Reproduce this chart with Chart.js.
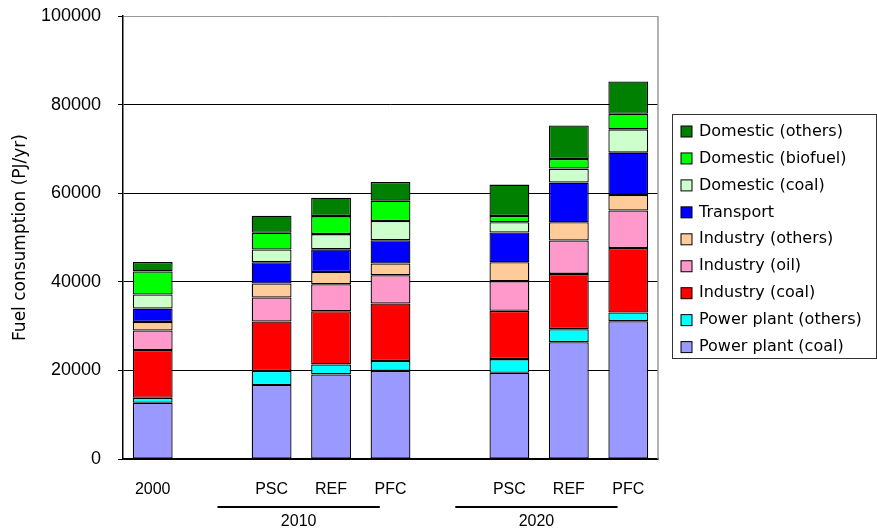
<!DOCTYPE html>
<html>
<head>
<meta charset="utf-8">
<script src="https://cdn.jsdelivr.net/npm/chart.js@4/dist/chart.umd.min.js"></script>
<style>
  html, body { margin: 0; padding: 0; background: #fff; }
  #wrap { width: 877px; height: 531px; position: relative; }
</style>
</head>
<body>
<div id="wrap"><canvas id="fuel"></canvas></div>
<script>
// categories (empty slots are the gaps between years)
const categories = ['2000', '', 'PSC', 'REF', 'PFC', '', 'PSC', 'REF', 'PFC'];

// year groups under the scenario labels
const groupNames = ['2010', '2020'];
const groupFirst = [2, 6];
const groupLast = [4, 8];

const yTicks = [0, 20000, 40000, 60000, 80000, 100000];

// series values, PJ/yr (bottom of stack first)
const powerCoal      = [12700, null, 16700, 19100, 19900, null, 19460, 26380, 31120];
const powerOthers    = [1100,  null, 3200,  2250,  2250,  null, 3090,  2930,  1960];
const industryCoal   = [10800, null, 11150, 12000, 12950, null, 10890, 12470, 14560];
const industryOil    = [4400,  null, 5400,  6100,  6380,  null, 6700,  7530,  8440];
const industryOthers = [1950,  null, 3150,  2770,  2640,  null, 4280,  4130,  3510];
const transport      = [3000,  null, 4800,  5100,  5250,  null, 6700,  8950,  9560];
const domesticCoal   = [3200,  null, 2900,  3450,  4350,  null, 2320,  3160,  5260];
const domesticBio    = [5200,  null, 3770,  4060,  4600,  null, 1420,  2160,  3540];
const domesticOthers = [2100,  null, 3830,  4150,  4200,  null, 7080,  7600,  7280];

const seriesNames = ['Power plant (coal)', 'Power plant (others)', 'Industry (coal)',
  'Industry (oil)', 'Industry (others)', 'Transport', 'Domestic (coal)',
  'Domestic (biofuel)', 'Domestic (others)'];
const seriesData = [powerCoal, powerOthers, industryCoal, industryOil, industryOthers,
  transport, domesticCoal, domesticBio, domesticOthers];
const seriesColors = ['#9999FF', '#00FFFF', '#FF0000', '#FF99CC', '#FFCC99',
  '#0000FF', '#CCFFCC', '#00FF00', '#008000'];

const gothic = '"DejaVu Sans", sans-serif';
const arial = '"Liberation Sans", Arial, sans-serif';

// year labels + lines under the scenario ticks
const groupPlugin = {
  id: 'groups',
  afterDraw(chart) {
    const ctx = chart.ctx;
    const xs = chart.scales.x;
    const step = xs.getPixelForTick(1) - xs.getPixelForTick(0);
    ctx.save();
    for (let i = 0; i < groupNames.length; i++) {
      const x0 = xs.getPixelForTick(groupFirst[i]) - 0.91 * step;
      const x1 = xs.getPixelForTick(groupLast[i]) - 0.18 * step;
      ctx.strokeStyle = '#000';
      ctx.lineWidth = 2;
      ctx.beginPath();
      ctx.moveTo(x0, 507);
      ctx.lineTo(x1, 507);
      ctx.stroke();
      ctx.fillStyle = '#000';
      ctx.font = '16px ' + arial;
      ctx.textAlign = 'center';
      ctx.textBaseline = 'middle';
      ctx.fillText(groupNames[i], (x0 + x1) / 2, 522);
    }
    // right edge of the plot
    const a = chart.chartArea;
    ctx.strokeStyle = '#999';
    ctx.lineWidth = 1.5;
    ctx.beginPath();
    ctx.moveTo(a.right, a.top);
    ctx.lineTo(a.right, a.bottom);
    ctx.stroke();
    ctx.restore();
  }
};

// boxed legend, top entry = top of stack
const legendPlugin = {
  id: 'boxLegend',
  afterDraw(chart) {
    const ctx = chart.ctx;
    ctx.save();
    ctx.strokeStyle = '#333';
    ctx.lineWidth = 1;
    ctx.strokeRect(672.5, 114.5, 204, 244);
    ctx.font = '16px ' + gothic;
    ctx.textBaseline = 'middle';
    ctx.textAlign = 'left';
    for (let k = 0; k < seriesNames.length; k++) {
      const i = seriesNames.length - 1 - k;
      const y = 131.5 + k * 26.95;
      ctx.fillStyle = seriesColors[i];
      ctx.fillRect(681, y - 5.5, 11, 11);
      ctx.strokeStyle = '#000';
      ctx.strokeRect(681, y - 5.5, 11, 11);
      ctx.fillStyle = '#000';
      ctx.fillText(seriesNames[i], 699, y);
    }
    ctx.restore();
  }
};

const datasets = seriesNames.map((name, i) => ({
  label: name,
  data: seriesData[i],
  backgroundColor: seriesColors[i],
  borderColor: '#000',
  borderWidth: 1.3,
  borderSkipped: false,
  barPercentage: 0.67,
  categoryPercentage: 1.0
}));

new Chart(document.getElementById('fuel'), {
  type: 'bar',
  data: { labels: categories, datasets: datasets },
  options: {
    responsive: true,
    maintainAspectRatio: false,
    animation: false,
    layout: { padding: { left: 10, right: 219, top: 16, bottom: 0 } },
    plugins: {
      legend: { display: false },
      tooltip: { enabled: false }
    },
    scales: {
      x: {
        stacked: true,
        grid: { display: false },
        border: { display: true, color: '#000', width: 1.5 },
        ticks: { color: '#000', padding: 13, maxRotation: 0, autoSkip: false,
                 font: { family: arial, size: 16 } },
        afterFit(scale) {
          scale.height = 72;
          scale.paddingLeft = 0; scale.paddingRight = 0;
        }
      },
      y: {
        stacked: true,
        min: 0,
        max: 100000,
        afterBuildTicks(scale) { scale.ticks = yTicks.map(v => ({ value: v })); },
        grid: {
          color: c => (c.tick && c.tick.value === 100000) ? '#999' : '#000',
          lineWidth: 1,
          drawTicks: true,
          tickLength: 5,
          tickColor: '#000'
        },
        border: { display: true, color: '#000', width: 1.5 },
        ticks: { color: '#000', padding: 17, font: { family: arial, size: 18 },
                 callback: v => String(v) },
        title: {
          display: true,
          text: 'Fuel consumption (PJ/yr)',
          color: '#000',
          font: { family: gothic, size: 17 },
          padding: { top: 0, bottom: 0 }
        },
        afterFit(scale) {
          scale.width = 113;
          scale.paddingTop = 0; scale.paddingBottom = 0;
        }
      }
    }
  },
  plugins: [groupPlugin, legendPlugin]
});
</script>
</body>
</html>
